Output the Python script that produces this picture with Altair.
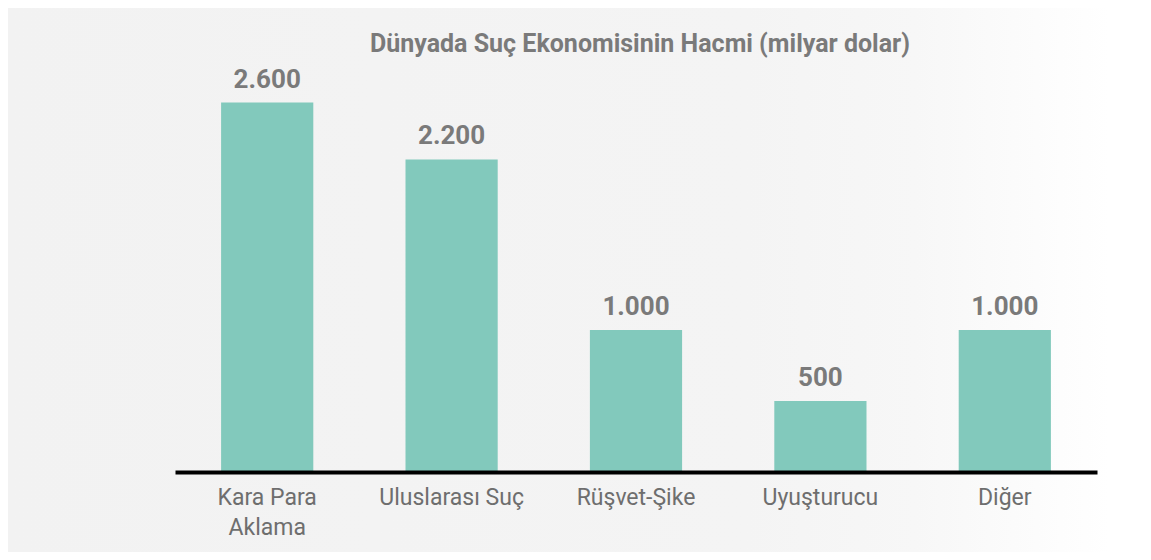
import altair as alt
import pandas as pd

categories = ["Kara Para Aklama", "Uluslarası Suç", "Rüşvet-Şike", "Uyuşturucu", "Diğer"]
values = [2600, 2200, 1000, 500, 1000]
value_labels = ["2.600", "2.200", "1.000", "500", "1.000"]

df = pd.DataFrame({"cat": categories, "val": values, "lab": value_labels})

GRAY = "#7a7a7a"
FONT = "Roboto"
W, H = 922, 412
PL, PT, PR, PB = 167, 52, 46, 80

bg = alt.Chart(pd.DataFrame({"a": [0]})).mark_rect(
    color=alt.Gradient(
        gradient="linear",
        x1=0, x2=1, y1=0, y2=0,
        stops=[
            alt.GradientStop(color="#f2f2f2", offset=0),
            alt.GradientStop(color="#f4f4f4", offset=0.65),
            alt.GradientStop(color="#f7f7f7", offset=0.8),
            alt.GradientStop(color="#ffffff", offset=0.97),
        ],
    )
).encode(
    x=alt.value(-PL), x2=alt.value(W + PR),
    y=alt.value(-PT), y2=alt.value(H + PB),
)

base = alt.Chart(df).encode(
    x=alt.X(
        "cat:N",
        sort=categories,
        scale=alt.Scale(paddingInner=0.5, paddingOuter=0.25),
        axis=alt.Axis(
            title=None,
            labelAngle=0,
            labelFont=FONT,
            labelFontSize=23,
            labelColor="#6e6e6e",
            labelPadding=14,
            labelLineHeight=30,
            labelBaseline="top",
            labelExpr="datum.label == 'Kara Para Aklama' ? ['Kara Para', 'Aklama'] : datum.label",
            ticks=False,
            domainColor="#000000",
            domainWidth=4,
            grid=False,
            zindex=1,
        ),
    ),
    y=alt.Y("val:Q", scale=alt.Scale(domain=[0, 2900]), axis=None),
)

bars = base.mark_bar(color="#82c9bc")
text = base.mark_text(
    baseline="bottom", dy=-10, font=FONT, fontSize=26, fontWeight="bold", color=GRAY
).encode(text="lab:N")

chart = (
    alt.layer(bg, bars, text)
    .properties(
        width=W,
        height=H,
        autosize=alt.AutoSizeParams(type="none"),
        padding={"left": PL, "top": PT, "right": PR, "bottom": PB},
        background="#ffffff",
        title=alt.TitleParams(
            "Dünyada Suç Ekonomisinin Hacmi (milyar dolar)",
            font=FONT,
            fontSize=25,
            fontWeight="bold",
            color=GRAY,
            anchor="middle",
            frame="group",
            offset=-49,
            dx=4,
            zindex=1,
        ),
    )
    .configure_view(stroke=None)
)

chart.save("out.html", embed_options={"renderer": "svg", "actions": False})
